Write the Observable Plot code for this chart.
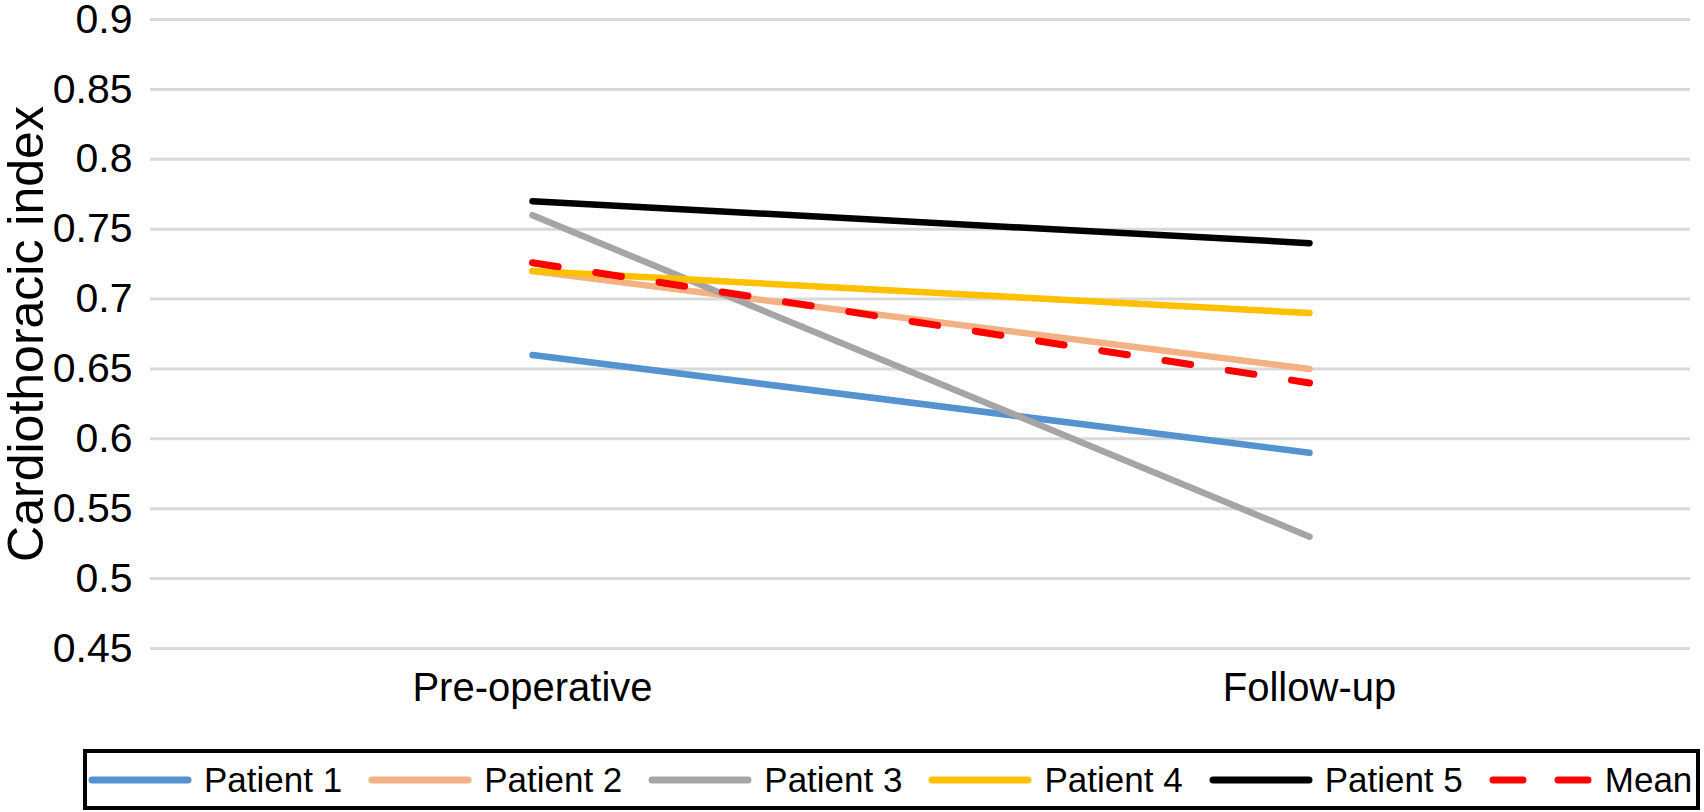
<!DOCTYPE html>
<html>
<head>
<meta charset="utf-8">
<script src="https://cdn.jsdelivr.net/npm/d3@7"></script>
<script src="https://cdn.jsdelivr.net/npm/@observablehq/plot@0.6"></script>
<style>
  html, body { margin: 0; padding: 0; background: #fff; }
  body { width: 1704px; height: 812px; overflow: hidden; font-family: "Liberation Sans", Arial, Helvetica, sans-serif; }
  #legend {
    margin-left: 83px; margin-top: 4px; width: 1617px; height: 61px;
    box-sizing: border-box; border: 4px solid #000;
    display: flex; align-items: center; gap: 26px; padding-left: 1px;
    font-size: 35px; color: #000; white-space: nowrap;
  }
  .item { display: flex; align-items: center; flex-shrink: 0; white-space: nowrap; }
  .item svg { margin-right: 12px; flex-shrink: 0; }
</style>
</head>
<body>
<div id="chart"></div>
<div id="legend"></div>
<script>
const timepoints = ["Pre-operative", "Follow-up"];
const patients = ["Patient 1", "Patient 2", "Patient 3", "Patient 4", "Patient 5"];
const preValues = [0.66, 0.72, 0.76, 0.72, 0.77];
const followValues = [0.59, 0.65, 0.53, 0.69, 0.74];
const meanLabel = "Mean";
const meanValues = [0.726, 0.64];
const yTicks = [0.45, 0.5, 0.55, 0.6, 0.65, 0.7, 0.75, 0.8, 0.85, 0.9];
const yTickLabels = ["0.45", "0.5", "0.55", "0.6", "0.65", "0.7", "0.75", "0.8", "0.85", "0.9"];
const colors = ["#5592d0", "#f4b183", "#a5a5a5", "#ffc000", "#000000"];
const meanColor = "#ff0000";
const yLabel = "Cardiothoracic index";

const rows = [];
patients.forEach((p, i) => {
  rows.push({series: p, time: timepoints[0], value: preValues[i]});
  rows.push({series: p, time: timepoints[1], value: followValues[i]});
});
const meanRows = timepoints.map((t, i) => ({series: meanLabel, time: t, value: meanValues[i]}));

const font = '"Liberation Sans", Arial, Helvetica, sans-serif';

const chart = Plot.plot({
  width: 1704,
  height: 745,
  marginLeft: 150,
  marginRight: 14,
  marginTop: 19,
  marginBottom: 97,
  style: {fontFamily: font, color: "#000", background: "#fff", overflow: "visible"},
  x: {type: "point", domain: timepoints, padding: 0.49, label: null},
  y: {domain: [0.45, 0.9], label: null},
  color: {domain: patients, range: colors},
  marks: [
    Plot.gridY(yTicks, {stroke: "#d9d9d9", strokeWidth: 3, strokeOpacity: 1}),
    Plot.axisY(yTicks, {tickSize: 0, tickPadding: 18, fontSize: 41, tickFormat: (d) => yTickLabels[yTicks.indexOf(d)], label: null}),
    Plot.axisX({tickSize: 0, tickPadding: 24, fontSize: 40, label: null}),
    Plot.line(rows, {x: "time", y: "value", z: "series", stroke: "series", strokeWidth: 6.5, strokeLinecap: "round"}),
    Plot.line(meanRows, {x: "time", y: "value", stroke: meanColor, strokeWidth: 7, strokeDasharray: "26,38", strokeLinecap: "round"}),
    Plot.text([yLabel], {text: (d) => d, frameAnchor: "left", dx: -124, rotate: -90, fontSize: 50, textAnchor: "middle", lineAnchor: "middle", fill: "#000"})
  ]
});
document.getElementById("chart").appendChild(chart);

// legend
const legend = document.getElementById("legend");
const entries = patients.map((p, i) => ({label: p, color: colors[i], dash: null}))
  .concat([{label: meanLabel, color: meanColor, dash: "26,38"}]);
entries.forEach((e) => {
  const item = document.createElement("div");
  item.className = "item";
  const sw = d3.create("svg").attr("width", 104).attr("height", 12);
  sw.append("line").attr("x1", 4).attr("x2", 100).attr("y1", 6).attr("y2", 6)
    .attr("stroke", e.color).attr("stroke-width", 7).attr("stroke-linecap", "round")
    .attr("stroke-dasharray", e.dash ? "30,35" : null);
  item.appendChild(sw.node());
  const t = document.createElement("span");
  t.textContent = e.label;
  item.appendChild(t);
  legend.appendChild(item);
});
</script>
</body>
</html>
